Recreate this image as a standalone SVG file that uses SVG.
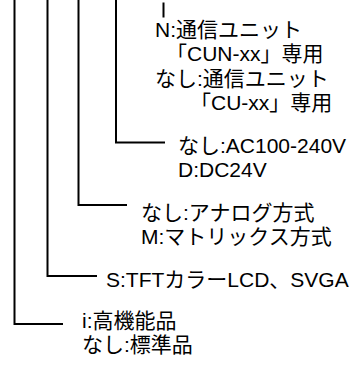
<svg xmlns="http://www.w3.org/2000/svg" width="352" height="365" viewBox="0 0 352 365">
<style>
.c{fill:none;stroke:#000;stroke-width:2;stroke-linecap:butt;stroke-linejoin:miter}
.t{font-family:"Liberation Sans","Noto Sans CJK JP",sans-serif;font-size:21px;fill:#000}
</style>
<rect width="352" height="365" fill="#fff"/>
<g id="connectors">
<path class="c" d="M14.5,0 V324 H63"/>
<path class="c" d="M47.5,0 V276 H97"/>
<path class="c" d="M78.5,0 V205 H127"/>
<path class="c" d="M116,0 V142.5 H165"/>
<path class="c" d="M163.5,2.5 V17.5"/>
</g>
<g id="opt-comm">
<text class="t" x="155" y="37">N:通信ユニット</text>
<text class="t" x="166" y="61">「CUN-xx」専用</text>
<text class="t" x="155" y="86">なし:通信ユニット</text>
<text class="t" x="190" y="110">「CU-xx」専用</text>
</g>
<g id="opt-power">
<text class="t" x="178" y="153">なし:AC100-240V</text>
<text class="t" x="178" y="177">D:DC24V</text>
</g>
<g id="opt-method">
<text class="t" x="141" y="220">なし:アナログ方式</text>
<text class="t" x="141" y="244">M:マトリックス方式</text>
</g>
<g id="opt-lcd">
<text class="t" x="106" y="287">S:TFTカラーLCD、SVGA</text>
</g>
<g id="opt-grade">
<text class="t" x="82" y="328">i:高機能品</text>
<text class="t" x="82" y="352">なし:標準品</text>
</g>
</svg>
